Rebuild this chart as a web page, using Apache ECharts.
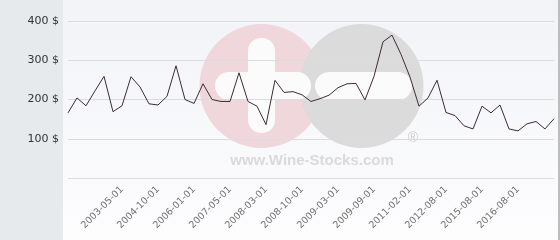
<!DOCTYPE html>
<html>
<head>
<meta charset="utf-8">
<script src="https://cdn.jsdelivr.net/npm/echarts@6/dist/echarts.min.js"></script>
<style>html,body{margin:0;padding:0;background:#fff}#c{width:560px;height:240px}</style>
</head>
<body>
<div id="c"></div>
<script>
const categories = [
  '', '', '', '', '', '', '2003-05-01', '', '', '',
  '2004-10-01', '', '', '', '2006-01-01', '', '', '', '2007-05-01', '',
  '', '', '2008-03-01', '', '', '', '2008-10-01', '', '', '',
  '2009-03-01', '', '', '', '2009-09-01', '', '', '', '2011-02-01', '',
  '', '', '2012-08-01', '', '', '', '2015-08-01', '', '', '',
  '2016-08-01', '', '', '', ''
];
const prices = [
  166, 204, 184, 222, 259, 169, 184, 258, 232, 189,
  186, 208, 286, 200, 190, 240, 200, 195, 195, 268,
  195, 183, 136, 249, 218, 220, 212, 195, 202, 211,
  230, 240, 241, 199, 259, 347, 364, 315, 257, 183,
  204, 249, 167, 159, 133, 125, 183, 166, 186, 125,
  120, 138, 144, 125, 151
];
const yTicks = [0, 100, 200, 300, 400];
const currency = '$';
const watermarkText = 'www.Wine-Stocks.com';

const chart = echarts.init(document.getElementById('c'), null, {renderer: 'canvas'});
chart.setOption({
  animation: false,
  backgroundColor: '#ffffff',
  graphic: [
    {type: 'rect', z: -20, silent: true, shape: {x: 0, y: 0, width: 63, height: 240}, style: {fill: '#e6eaed'}},
    {type: 'rect', z: -20, silent: true, shape: {x: 63, y: 0, width: 495, height: 240},
      style: {fill: new echarts.graphic.LinearGradient(0, 0, 0, 1, [{offset: 0, color: '#f2f3f7'}, {offset: 1, color: '#fdfdfe'}])}},
    {type: 'rect', z: -20, silent: true, shape: {x: 558, y: 0, width: 2, height: 240}, style: {fill: '#bdbdbd'}},
    {type: 'circle', z: -10, silent: true, shape: {cx: 261.5, cy: 86, r: 62}, style: {fill: '#f0d7dc'}},
    {type: 'circle', z: -9, silent: true, shape: {cx: 361.5, cy: 86, r: 62}, style: {fill: '#dbdbdb'}},
    {type: 'rect', z: -8, silent: true, shape: {x: 248, y: 38, width: 27, height: 95, r: 13}, style: {fill: '#fbfbfc'}},
    {type: 'rect', z: -8, silent: true, shape: {x: 215, y: 72, width: 96, height: 28, r: 14}, style: {fill: '#fbfbfc'}},
    {type: 'rect', z: -8, silent: true, shape: {x: 315, y: 72, width: 97, height: 28, r: 14}, style: {fill: '#fbfbfc'}},
    {type: 'text', z: -8, silent: true, x: 413, y: 138,
      style: {text: '®', fill: '#cfcfcf', font: '14px "Liberation Sans"', align: 'center', verticalAlign: 'middle'}},
    {type: 'text', z: -8, silent: true, x: 312, y: 161,
      style: {text: watermarkText, fill: '#dadada', font: 'bold 15px "Liberation Sans"', align: 'center', verticalAlign: 'middle'}}
  ],
  grid: {left: 68, right: 6, top: 21, bottom: 62, containLabel: false},
  xAxis: {
    type: 'category',
    data: categories,
    boundaryGap: false,
    axisLine: {show: false},
    axisTick: {show: false},
    splitLine: {show: false},
    axisLabel: {
      interval: 0,
      rotate: 45,
      margin: 10,
      color: '#707070',
      fontSize: 9.5,
      fontFamily: 'DejaVu Sans'
    }
  },
  yAxis: {
    type: 'value',
    min: yTicks[0],
    max: yTicks[yTicks.length - 1],
    interval: 100,
    axisLine: {show: false},
    axisTick: {show: false},
    splitLine: {lineStyle: {color: '#dcdcdc', width: 1}},
    axisLabel: {
      margin: 9,
      color: '#333333',
      fontSize: 11,
      fontFamily: 'DejaVu Sans',
      formatter: v => v === 0 ? '' : v + ' ' + currency
    }
  },
  series: [{
    type: 'line',
    data: prices,
    symbol: 'none',
    lineStyle: {color: '#3d2b36', width: 1}
  }]
});
</script>
</body>
</html>
